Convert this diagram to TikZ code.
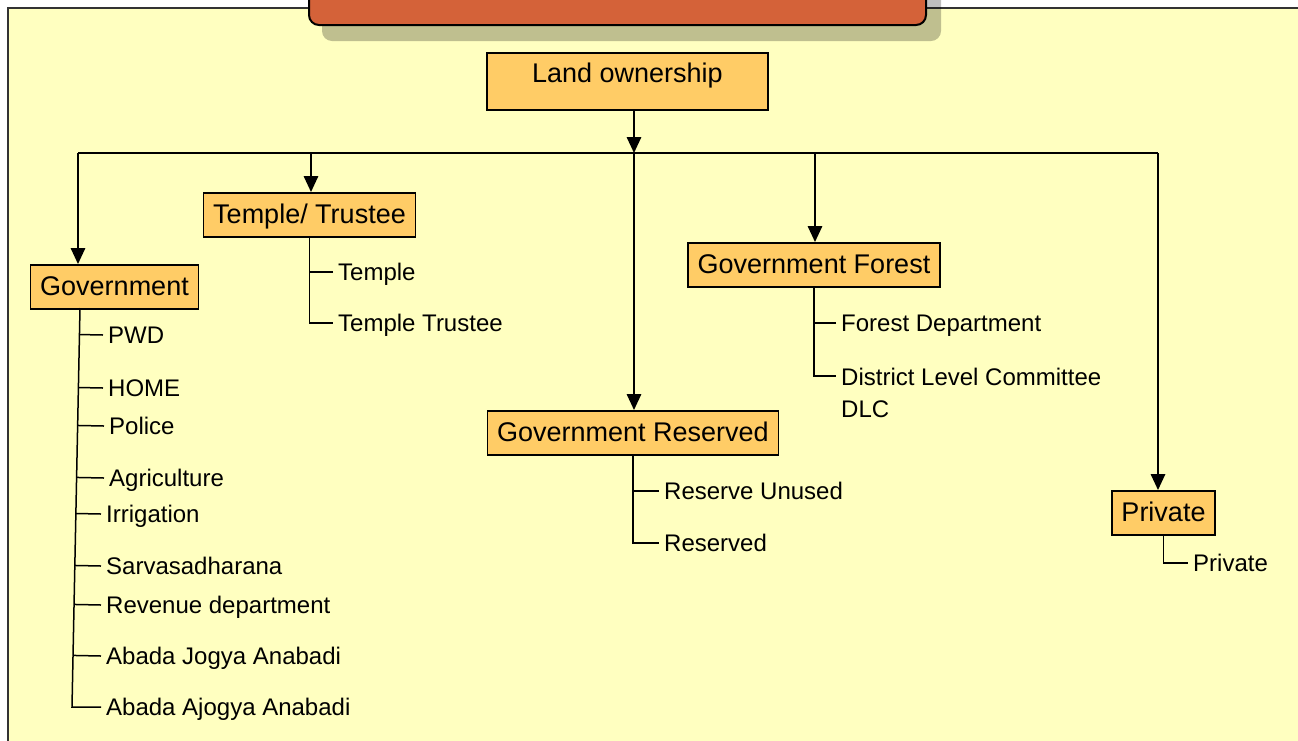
\documentclass[tikz,border=0pt]{standalone}
\usepackage{fontspec}
\setmainfont{Liberation Sans}
\usetikzlibrary{positioning,arrows.meta,calc}
\definecolor{pagebg}{RGB}{255,255,192}
\definecolor{boxfill}{RGB}{255,204,102}
\definecolor{titlebar}{RGB}{212,98,57}
\tikzset{
  catbox/.style={draw,line width=1.5pt,fill=boxfill,font=\fontsize{27}{31}\selectfont,
    inner xsep=9.5pt,inner ysep=0pt,text height=31pt,text depth=13pt},
  item/.style={font=\fontsize{24}{32}\selectfont,inner xsep=5pt,inner ysep=0pt,
    text height=17pt,text depth=0pt,anchor=west},
  down/.style={line width=1.6pt,-{Triangle[length=16pt,width=14.5pt]}},
  stem/.style={line width=1.5pt}
}
\begin{document}
\begin{tikzpicture}[x=1pt,y=-1pt]
\useasboundingbox (0,0) rectangle (1298,740);
\clip (0,0) rectangle (1298,740);
\path[fill=pagebg,draw=black!80,line width=2pt] (8,8) rectangle (1320,760);
\path[fill=black,opacity=.25,rounded corners=10pt] (322,-20) rectangle (941,41);
\path[fill=titlebar,draw=black,line width=2pt,rounded corners=10pt] (309,-20) rectangle (926,25);

\node[catbox,anchor=north,minimum width=281pt,text height=30pt,text depth=27pt] (land) at (627.5,52) {Land ownership};
\node[catbox,anchor=north] (gov) at (114.5,264) {Government};
\node[catbox,anchor=north] (temple) at (309.5,192) {Temple/ Trustee};
\node[catbox,anchor=north] (forest) at (814,242) {Government Forest};
\node[catbox,anchor=north] (reserved) at (633,410) {Government Reserved};
\node[catbox,anchor=north] (private) at (1163.5,490) {Private};

\coordinate (bus) at (634,153);
\coordinate (busL) at (78,153);
\coordinate (busT) at (311,153);
\coordinate (busF) at (815,153);
\coordinate (busR) at (1158,153);
\draw[down] (land.south -| bus) -- (bus);
\draw[stem] (busL) -- (busR);
\draw[down] (busL) -- (gov.north -| busL);
\draw[down] (busT) -- (temple.north -| busT);
\draw[down] (bus) -- (reserved.north -| bus);
\draw[down] (busF) -- (forest.north -| busF);
\draw[down] (busR) -- (private.north -| busR);

% government
\foreach \n/\x/\y/\txt in {pwd/108/335/PWD, home/108/388/HOME, police/109/426/Police,
    agri/109/478/Agriculture, irri/106/514/Irrigation, sarva/106/566/Sarvasadharana,
    revenue/106/605/Revenue department, jogya/106/656/Abada Jogya Anabadi,
    ajogya/106/707/Abada Ajogya Anabadi}
  \node[item] (\n) at (\x-5,\y) {\txt};
\coordinate (gtop) at (80,308);
\coordinate (gbot) at (72,707);
\draw[stem] (gtop) -- (gbot) -- (ajogya.west);
\foreach \n in {pwd,home,police,agri,irri,sarva,revenue,jogya}
  \draw[stem] ($(gtop)!(\n.west)!(gbot)$) -- (\n.west);

% temple
\node[item] (templeA) at (333,272) {Temple};
\node[item] (templeB) at (333,323) {Temple Trustee};
\draw[stem] (temple.south) |- (templeB.west);
\draw[stem] (templeA.west) -- (templeA.west -| temple.south);

% forest
\node[item] (forestdept) at (836,323) {Forest Department};
\node[font=\fontsize{24}{32}\selectfont,inner xsep=5pt,inner ysep=0pt,align=left,anchor=north west] (dlc) at (836,368) {District Level Committee\\DLC};
\draw[stem] (forest.south) |- ($(dlc.north west)+(0,8)$);
\draw[stem] (forestdept.west) -- (forestdept.west -| forest.south);

% reserved
\node[item] (unused) at (659,491) {Reserve Unused};
\node[item] (resv) at (659,543) {Reserved};
\draw[stem] (reserved.south) |- (resv.west);
\draw[stem] (unused.west) -- (unused.west -| reserved.south);

% private
\node[item] (priv) at (1188,563) {Private};
\draw[stem] (private.south) |- (priv.west);
\end{tikzpicture}
\end{document}
